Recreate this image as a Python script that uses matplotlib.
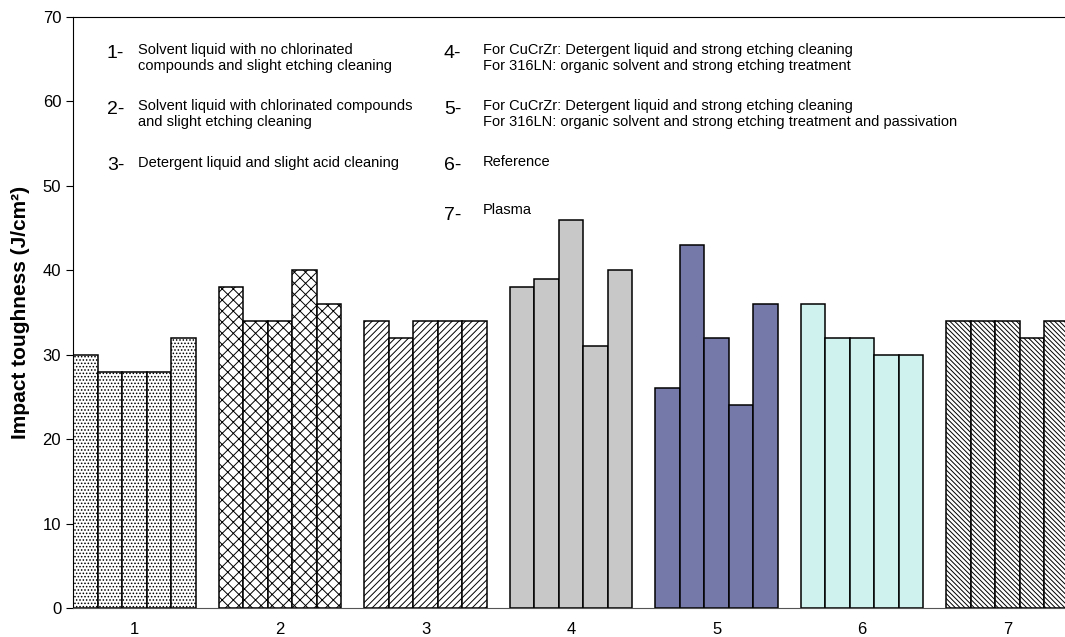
import matplotlib.pyplot as plt
import numpy as np

plt.rcParams['font.family'] = ['Liberation Sans', 'DejaVu Sans']
plt.rcParams['hatch.linewidth'] = 0.7

# Datos: 7 tratamientos, 5 probetas cada uno
groups = ['1', '2', '3', '4', '5', '6', '7']
values = [
    [30, 28, 28, 28, 32],
    [38, 34, 34, 40, 36],
    [34, 32, 34, 34, 34],
    [38, 39, 46, 31, 40],
    [26, 43, 32, 24, 36],
    [36, 32, 32, 30, 30],
    [34, 34, 34, 32, 34],
]
fills = ['white', 'white', 'white', '#c8c8c8', '#7579aa', '#d0f2ee', 'white']
hatches = ['.....', 'xxx', '/////', None, None, None, '\\' * 7]

numbers = ['1-', '2-', '3-', '4-', '5-', '6-', '7-']
notes = [
    'Solvent liquid with no chlorinated\ncompounds and slight etching cleaning',
    'Solvent liquid with chlorinated compounds\nand slight etching cleaning',
    'Detergent liquid and slight acid cleaning',
    'For CuCrZr: Detergent liquid and strong etching cleaning\nFor 316LN: organic solvent and strong etching treatment',
    'For CuCrZr: Detergent liquid and strong etching cleaning\nFor 316LN: organic solvent and strong etching treatment and passivation',
    'Reference',
    'Plasma',
]

W, H = 1065, 637
fig = plt.figure(figsize=(W / 100, H / 100), dpi=100)
ax = fig.add_axes([73 / W, 1 - 608 / H, 1 - 73 / W, (608 - 17) / H])

x = np.arange(1, len(groups) + 1)
bw = 0.168
for i, vals in enumerate(values):
    offs = (np.arange(5) - 2) * bw
    ax.bar(x[i] + offs, vals, width=bw, color=fills[i], hatch=hatches[i],
           edgecolor='black', linewidth=1.1)

ax.set_xlim(0.577, 7.395)
ax.set_ylim(0, 70)
ax.set_yticks(range(0, 71, 10))
ax.set_xticks(x)
ax.set_xticklabels(groups)
ax.tick_params(axis='x', length=0, labelsize=12, pad=10)
ax.tick_params(axis='y', length=5, labelsize=12, direction='out')
ax.spines['right'].set_visible(False)
ax.spines['bottom'].set_color('#555555')
ax.set_ylabel('Impact toughness (J/cm²)', fontsize=15, fontweight='bold', labelpad=9)

# Leyenda en texto
num_pos = [(107, 53), (107, 110), (107, 165), (444, 53), (444, 110), (444, 165), (444, 215)]
txt_pos = [(138, 58), (138, 114), (138, 163), (483, 58), (483, 114), (483, 162), (483, 210)]
for (nx, ny), (tx, ty), n, t in zip(num_pos, txt_pos, numbers, notes):
    fig.text(nx / W, 1 - ny / H, n, fontsize=14, va='center', ha='left')
    fig.text(tx / W, 1 - ty / H, t, fontsize=10.5, va='center', ha='left', linespacing=1.17)

plt.savefig('out.png', dpi=100)
